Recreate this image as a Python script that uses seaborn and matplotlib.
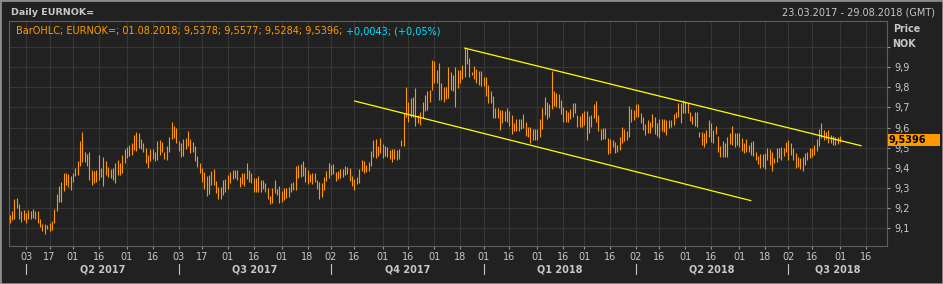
import numpy as np
import pandas as pd
import matplotlib
matplotlib.use("Agg")
import matplotlib.pyplot as plt
import matplotlib.transforms as mtransforms
from matplotlib.patches import Rectangle
import seaborn as sns

# ---------------- data (EURNOK daily bars) ----------------
start_date = "2017-03-23"
end_date = "2018-08-29"

# 23.03.2017 - 03.07.2017
high_a = [9.167, 9.187, 9.246, 9.253, 9.221, 9.187, 9.193, 9.175, 9.193, 9.187,
          9.198, 9.187, 9.187, 9.149, 9.122, 9.122, 9.116, 9.129, 9.137, 9.198,
          9.271, 9.311, 9.332, 9.375, 9.375, 9.370, 9.362, 9.375, 9.400, 9.435,
          9.534, 9.578, 9.478, 9.469, 9.479, 9.390, 9.385, 9.390, 9.464, 9.400,
          9.455, 9.436, 9.405, 9.395, 9.400, 9.423, 9.440, 9.426, 9.464, 9.494,
          9.504, 9.514, 9.522, 9.564, 9.578, 9.573, 9.545, 9.522, 9.497, 9.464,
          9.494, 9.494, 9.479, 9.534, 9.537, 9.529, 9.481, 9.511, 9.554, 9.628,
          9.607, 9.598, 9.536]
low_a = [9.129, 9.142, 9.147, 9.200, 9.147, 9.134, 9.142, 9.129, 9.147, 9.147,
         9.152, 9.147, 9.129, 9.109, 9.088, 9.074, 9.096, 9.088, 9.093, 9.126,
         9.187, 9.233, 9.233, 9.288, 9.316, 9.304, 9.291, 9.332, 9.360, 9.365,
         9.412, 9.428, 9.428, 9.412, 9.340, 9.317, 9.324, 9.329, 9.340, 9.357,
         9.312, 9.365, 9.357, 9.352, 9.340, 9.327, 9.365, 9.365, 9.375, 9.423,
         9.448, 9.459, 9.464, 9.489, 9.484, 9.499, 9.494, 9.478, 9.426, 9.400,
         9.435, 9.443, 9.435, 9.440, 9.464, 9.478, 9.445, 9.440, 9.478, 9.544,
         9.547, 9.522, 9.486]

# 04.07.2017 - 11.10.2017
high_b = [9.526, 9.544, 9.550, 9.585, 9.544, 9.531, 9.511, 9.461, 9.426, 9.400,
          9.382, 9.360, 9.367, 9.385, 9.395, 9.337, 9.307, 9.307, 9.340, 9.347,
          9.367, 9.378, 9.390, 9.390, 9.390, 9.354, 9.374, 9.375, 9.425, 9.390,
          9.375, 9.352, 9.352, 9.362, 9.340, 9.340, 9.326, 9.301, 9.261, 9.301,
          9.340, 9.296, 9.311, 9.286, 9.301, 9.299, 9.306, 9.324, 9.331, 9.410,
          9.415, 9.420, 9.435, 9.405, 9.390, 9.370, 9.375, 9.375, 9.340, 9.332,
          9.326, 9.355, 9.385, 9.425, 9.415, 9.420, 9.380, 9.385, 9.395, 9.395,
          9.410, 9.405]
low_b = [9.456, 9.461, 9.496, 9.509, 9.476, 9.481, 9.436, 9.407, 9.377, 9.331,
         9.298, 9.263, 9.269, 9.316, 9.316, 9.278, 9.248, 9.248, 9.267, 9.279,
         9.298, 9.326, 9.345, 9.352, 9.340, 9.307, 9.319, 9.312, 9.345, 9.329,
         9.327, 9.283, 9.283, 9.283, 9.283, 9.296, 9.283, 9.246, 9.220, 9.228,
         9.274, 9.266, 9.228, 9.233, 9.243, 9.250, 9.255, 9.279, 9.291, 9.291,
         9.352, 9.357, 9.362, 9.332, 9.322, 9.331, 9.322, 9.331, 9.296, 9.248,
         9.255, 9.291, 9.337, 9.350, 9.365, 9.370, 9.337, 9.345, 9.352, 9.357,
         9.365, 9.370]

# 12.10.2017 - 22.01.2018
high_c = [9.400, 9.360, 9.345, 9.357, 9.395, 9.440, 9.436, 9.415, 9.430, 9.484,
          9.539, 9.545, 9.509, 9.550, 9.517, 9.509, 9.506, 9.488, 9.493, 9.496,
          9.489, 9.494, 9.540, 9.671, 9.803, 9.728, 9.749, 9.752, 9.798, 9.663,
          9.678, 9.726, 9.762, 9.782, 9.787, 9.936, 9.931, 9.886, 9.922, 9.820,
          9.803, 9.803, 9.899, 9.874, 9.861, 9.902, 9.886, 9.886, 9.912, 10.002,
          9.992, 9.944, 9.878, 9.907, 9.889, 9.879, 9.879, 9.853, 9.853, 9.812,
          9.779, 9.757, 9.698, 9.696, 9.688, 9.689, 9.681, 9.696, 9.681, 9.661,
          9.625, 9.643, 9.643]
low_c = [9.337, 9.312, 9.293, 9.321, 9.324, 9.387, 9.377, 9.379, 9.387, 9.410,
         9.456, 9.448, 9.458, 9.476, 9.451, 9.460, 9.453, 9.443, 9.428, 9.446,
         9.440, 9.446, 9.509, 9.509, 9.651, 9.629, 9.651, 9.655, 9.610, 9.622,
         9.615, 9.646, 9.684, 9.688, 9.727, 9.787, 9.820, 9.820, 9.737, 9.737,
         9.729, 9.744, 9.747, 9.787, 9.779, 9.704, 9.798, 9.823, 9.843, 9.853,
         9.914, 9.853, 9.861, 9.843, 9.820, 9.810, 9.808, 9.808, 9.759, 9.724,
         9.721, 9.650, 9.650, 9.650, 9.588, 9.622, 9.633, 9.630, 9.608, 9.569,
         9.585, 9.582, 9.585]

# 23.01.2018 - 30.04.2018
high_d = [9.645, 9.666, 9.626, 9.605, 9.602, 9.592, 9.592, 9.592, 9.645, 9.696,
          9.752, 9.727, 9.716, 9.883, 9.782, 9.774, 9.767, 9.737, 9.704, 9.688,
          9.679, 9.691, 9.721, 9.724, 9.663, 9.658, 9.673, 9.681, 9.684, 9.658,
          9.663, 9.717, 9.734, 9.661, 9.593, 9.598, 9.598, 9.549, 9.544, 9.539,
          9.531, 9.514, 9.554, 9.603, 9.595, 9.583, 9.707, 9.693, 9.688, 9.717,
          9.717, 9.671, 9.655, 9.617, 9.638, 9.628, 9.668, 9.655, 9.623, 9.641,
          9.641, 9.645, 9.638, 9.638, 9.638, 9.668, 9.679, 9.724, 9.724, 9.737]
low_d = [9.592, 9.597, 9.559, 9.552, 9.522, 9.539, 9.539, 9.539, 9.555, 9.593,
         9.663, 9.641, 9.655, 9.693, 9.707, 9.701, 9.696, 9.669, 9.630, 9.630,
         9.630, 9.641, 9.655, 9.674, 9.603, 9.605, 9.605, 9.612, 9.539, 9.575,
         9.605, 9.646, 9.630, 9.583, 9.539, 9.542, 9.545, 9.468, 9.473, 9.502,
         9.476, 9.481, 9.489, 9.522, 9.534, 9.537, 9.555, 9.630, 9.638, 9.655,
         9.655, 9.621, 9.588, 9.564, 9.572, 9.575, 9.602, 9.567, 9.559, 9.547,
         9.582, 9.578, 9.564, 9.600, 9.605, 9.613, 9.646, 9.651, 9.621, 9.671]

# 01.05.2018 - 01.08.2018
high_e = [9.726, 9.721, 9.678, 9.658, 9.676, 9.678, 9.580, 9.580, 9.572, 9.588,
          9.638, 9.625, 9.588, 9.608, 9.559, 9.509, 9.535, 9.526, 9.555, 9.572,
          9.608, 9.575, 9.572, 9.572, 9.547, 9.522, 9.542, 9.514, 9.527, 9.534,
          9.481, 9.460, 9.469, 9.469, 9.473, 9.498, 9.493, 9.481, 9.448, 9.498,
          9.498, 9.506, 9.498, 9.531, 9.539, 9.522, 9.498, 9.473, 9.456, 9.448,
          9.456, 9.473, 9.481, 9.498, 9.498, 9.514, 9.542, 9.592, 9.625, 9.588,
          9.580, 9.588, 9.562, 9.559, 9.555, 9.555, 9.5577]
low_e = [9.671, 9.674, 9.635, 9.618, 9.608, 9.605, 9.555, 9.514, 9.502, 9.526,
         9.552, 9.531, 9.526, 9.569, 9.481, 9.456, 9.456, 9.456, 9.456, 9.517,
         9.514, 9.506, 9.514, 9.506, 9.484, 9.473, 9.481, 9.481, 9.464, 9.459,
         9.440, 9.420, 9.398, 9.405, 9.393, 9.440, 9.415, 9.387, 9.426, 9.431,
         9.451, 9.440, 9.460, 9.481, 9.440, 9.464, 9.440, 9.398, 9.403, 9.393,
         9.385, 9.415, 9.440, 9.448, 9.456, 9.464, 9.486, 9.509, 9.547, 9.539,
         9.542, 9.526, 9.522, 9.514, 9.514, 9.519, 9.5284]

last_date = "01.08.2018"
last_open, last_high, last_low, last_close = 9.5378, 9.5577, 9.5284, 9.5396
last_change, last_change_pct = 0.0043, 0.05

trend_upper_dates = ["2017-12-20", "2018-08-14"]
trend_upper_prices = [9.994, 9.510]
trend_lower_dates = ["2017-10-16", "2018-06-08"]
trend_lower_prices = [9.732, 9.238]

tick_dates = ["2017-04-03", "2017-04-17", "2017-05-01", "2017-05-16", "2017-06-01",
              "2017-06-16", "2017-07-03", "2017-07-17", "2017-08-01", "2017-08-16",
              "2017-09-01", "2017-09-18", "2017-10-02", "2017-10-16", "2017-11-01",
              "2017-11-16", "2017-12-01", "2017-12-18", "2018-01-01", "2018-01-16",
              "2018-02-01", "2018-02-16", "2018-03-01", "2018-03-16", "2018-04-02",
              "2018-04-16", "2018-05-01", "2018-05-16", "2018-06-01", "2018-06-18",
              "2018-07-02", "2018-07-16", "2018-08-01", "2018-08-16"]
tick_labels = ["03", "17", "01", "16", "01", "16", "03", "17", "01", "16", "01", "18",
               "02", "16", "01", "16", "01", "18", "01", "16", "01", "16", "01", "16",
               "02", "16", "01", "16", "01", "18", "02", "16", "01", "16"]
quarter_starts = ["2017-04-03", "2017-07-03", "2017-10-02", "2018-01-01", "2018-04-02", "2018-07-02"]
quarter_labels = ["Q2 2017", "Q3 2017", "Q4 2017", "Q1 2018", "Q2 2018", "Q3 2018"]
price_ticks = [9.1, 9.2, 9.3, 9.4, 9.5, 9.6, 9.7, 9.8, 9.9, 10.0]
price_tick_labels = ["9,1", "9,2", "9,3", "9,4", "9,5", "9,6", "9,7", "9,8", "9,9", ""]

# ---------------- styling ----------------
BG = "#212121"
GRID = "#363636"
SPINE = "#5e5e5e"
TXT = "#c8c8c8"
ORANGE = "#ff9900"
YELLOW = "#ffff00"
CYAN = "#00e5ff"

sns.set_theme(style="dark", rc={"axes.facecolor": BG, "figure.facecolor": BG})
plt.rcParams["font.family"] = ["DejaVu Sans"]

highs = np.concatenate([high_a, high_b, high_c, high_d, high_e])
lows = np.concatenate([low_a, low_b, low_c, low_d, low_e])
dates = pd.bdate_range(start_date, end_date)
df = pd.DataFrame({"date": dates[:len(highs)], "pos": np.arange(len(highs)),
                   "high": highs, "low": lows})


def to_pos(ds):
    return dates.get_indexer(pd.to_datetime(ds))


W, H = 943, 284
fig = plt.figure(figsize=(W / 100, H / 100), dpi=100)
fig.patch.set_facecolor(BG)
L, R, T, B = 9.3, 887.0, 20.7, 246.0
ax = fig.add_axes([L / W, 1 - B / H, (R - L) / W, (B - T) / H])
ax.set_facecolor(BG)

# bars
ax.vlines(df["pos"], df["low"], df["high"], colors=ORANGE, linewidth=0.8, zorder=3)

# trend channel
trend = pd.DataFrame({
    "pos": np.r_[to_pos(trend_upper_dates), to_pos(trend_lower_dates)],
    "price": trend_upper_prices + trend_lower_prices,
    "line": ["upper"] * 2 + ["lower"] * 2,
})
sns.lineplot(data=trend, x="pos", y="price", units="line", estimator=None,
             color=YELLOW, lw=0.9, ax=ax, legend=False, zorder=4)

# axes
ax.set_xticks(to_pos(tick_dates))
ax.set_xticklabels(tick_labels)
ax.yaxis.tick_right()
ax.set_yticks(price_ticks)
ax.set_yticklabels(price_tick_labels)
ax.grid(True, color=GRID, lw=0.8, zorder=0)
ax.set_axisbelow(True)
ax.tick_params(axis="x", bottom=True, length=2.5, width=0.8, color="#9a9a9a",
               labelcolor=TXT, labelsize=7, pad=2)
ax.tick_params(axis="y", right=True, left=False, length=2.5, width=0.8, color="#9a9a9a",
               labelcolor=TXT, labelsize=7, pad=2.5)
ax.set_xlabel("")
ax.set_ylabel("")
for s in ax.spines.values():
    s.set_visible(True)
    s.set_color(SPINE)
    s.set_linewidth(0.8)

ah = B - T
trans = mtransforms.blended_transform_factory(ax.transData, ax.transAxes)


def ypx(y):
    return (B - y) / ah


qpos = list(to_pos(quarter_starts))
for qs in qpos:
    ax.plot([qs, qs], [ypx(264), ypx(274)], transform=trans, color=TXT, lw=0.8, clip_on=False)
edges = qpos + [len(dates) - 1]
for i, lab in enumerate(quarter_labels):
    c = (edges[i] + edges[i + 1]) / 2
    ax.text(c, ypx(269), lab, transform=trans, ha="center", va="center",
            fontsize=7, fontweight="bold", color=TXT)

ax.set_xlim(-0.15, len(dates) - 1)
ax.set_ylim(9.013, 10.130)

# price marker box
tb = mtransforms.blended_transform_factory(ax.transAxes, ax.transData)
bx0 = (888 - L) / (R - L)
bx1 = (940 - L) / (R - L)
bh = 12.4 / ah * (10.130 - 9.013)
ax.add_patch(Rectangle((bx0, last_close - bh / 2), bx1 - bx0, bh, transform=tb,
                       facecolor=ORANGE, edgecolor="none", clip_on=False, zorder=5))
ax.text(bx0 + 0.001, last_close, f"{last_close:.4f}".replace(".", ","), transform=tb,
        ha="left", va="center", fontsize=7, fontweight="bold", color="black", zorder=6)

# header texts
sd, ed = pd.Timestamp(start_date), pd.Timestamp(end_date)
fig.text(10.7 / W, 1 - 15.3 / H, "Daily EURNOK=", fontsize=6.8, fontweight="bold",
         color=TXT, va="baseline")
fig.text(935 / W, 1 - 15.3 / H, f"{sd:%d.%m.%Y} - {ed:%d.%m.%Y} (GMT)", ha="right",
         va="baseline", fontsize=7, color=TXT)


def fmt(v):
    return f"{v:.4f}".replace(".", ",")


header_orange = (f"BarOHLC; EURNOK=; {last_date}; {fmt(last_open)}; {fmt(last_high)}; "
                 f"{fmt(last_low)}; {fmt(last_close)};")
header_cyan = f"+{fmt(last_change)}; (+{last_change_pct:.2f}%)".replace(".", ",")
t1 = fig.text(16 / W, 1 - 34 / H, header_orange, color=ORANGE, fontsize=7, va="baseline")
fig.canvas.draw()
bb = t1.get_window_extent()
fig.text((bb.x1 + 3.5) / W, 1 - 34 / H, header_cyan, color=CYAN, fontsize=7, va="baseline")
fig.text(893.3 / W, 1 - 32.3 / H, "Price", fontsize=6.9, fontweight="bold", color=TXT, va="baseline")
fig.text(892 / W, 1 - 46.7 / H, "NOK", fontsize=6.9, fontweight="bold", color=TXT, va="baseline")

fig.add_artist(Rectangle((0, 0), 1, 1, transform=fig.transFigure, fill=False,
                         edgecolor="#8c8c8c", lw=2.0))

fig.savefig("out.png", dpi=100, facecolor=fig.get_facecolor())
